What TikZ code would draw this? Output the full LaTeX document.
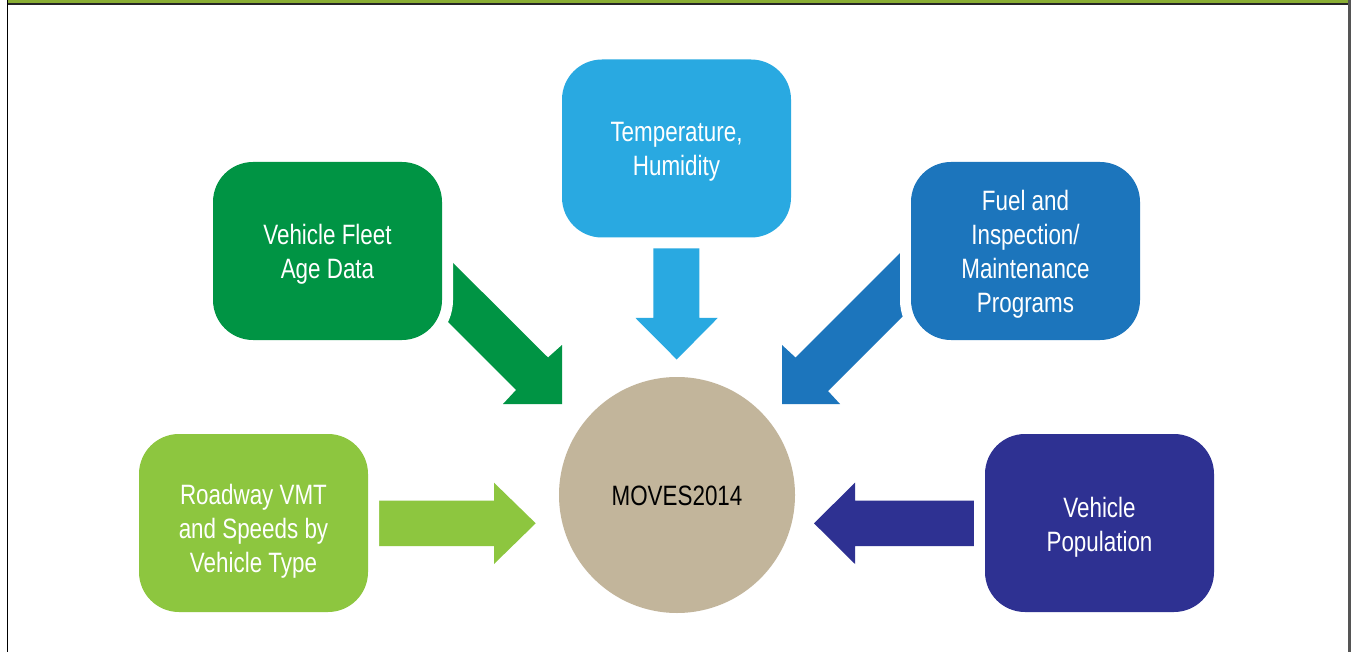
\documentclass[tikz,border=0pt]{standalone}
\usepackage{fontspec}
\setmainfont{Liberation Sans}[FakeStretch=0.8]
\definecolor{barGreen}{HTML}{8AAE34}
\definecolor{fleetGreen}{HTML}{009444}
\definecolor{tempBlue}{HTML}{29A9E1}
\definecolor{fuelBlue}{HTML}{1C75BC}
\definecolor{roadGreen}{HTML}{8DC63F}
\definecolor{popNavy}{HTML}{2E3192}
\definecolor{movesTan}{HTML}{C2B59B}
\definecolor{edgeGray}{HTML}{555555}
\tikzset{
  infobox/.style={rectangle, rounded corners=40pt, minimum width=229pt, minimum height=178pt,
    inner sep=0pt, preaction={draw=white, line width=22pt}},
  boxtext/.style={inner sep=0pt, text=white, align=center,
    font=\fontsize{28}{34}\selectfont},
  hub/.style={circle, fill=movesTan, minimum size=236pt, inner sep=0pt},
  hubtext/.style={inner sep=0pt, text=black, font=\fontsize{28}{34}\selectfont},
}
\begin{document}
\begin{tikzpicture}[x=1pt,y=-1pt]
\useasboundingbox (0,0) rectangle (1352,652);
\fill[white] (0,0) rectangle (1352,652);
% frame
\fill[barGreen] (8,0) rectangle (1348,3.3);
\fill[black!85] (8,3.3) rectangle (1348,4.8);
\fill[black] (6.8,0) rectangle (8.3,652);
\fill[edgeGray] (1348,0) rectangle (1350.5,652);
% arrows
\fill[tempBlue] (653.3,240) -- (699.3,240) -- (699.3,318) -- (717.7,318) -- (676.7,359.5) -- (635.5,318) -- (653.3,318) -- cycle;
\fill[roadGreen] (375,500.5) -- (494,500.5) -- (494,482.7) -- (535.7,523.3) -- (494,564) -- (494,546) -- (375,546) -- cycle;
\fill[popNavy] (978,500.5) -- (855,500.5) -- (855,482.7) -- (814,523.3) -- (855,564) -- (855,546) -- (978,546) -- cycle;
\fill[fleetGreen] (420,230) -- (548,357.5) -- (562,345) -- (562,404) -- (503,404) -- (516,390) -- (420,294) -- cycle;
\fill[fuelBlue] (930,223) -- (795.5,357.5) -- (782,345) -- (782,404) -- (840,404) -- (828,391) -- (930,289) -- cycle;
% boxes
\node[infobox, fill=tempBlue] (temp) at (676.5,148.5) {};
\node[infobox, fill=fleetGreen] (fleet) at (327.5,251) {};
\node[infobox, fill=fuelBlue] (fuel) at (1025.5,251) {};
\node[infobox, fill=roadGreen] (road) at (253.5,523) {};
\node[infobox, fill=popNavy] (pop) at (1099.5,523) {};
\node[hub] (moves) at (677,495) {};
% texts
\node[boxtext] (temptext) at ([yshift=-3pt]temp.center) {Temperature,\\Humidity};
\node[boxtext] (fleettext) at ([yshift=-3pt]fleet.center) {Vehicle Fleet\\Age Data};
\node[boxtext] (fueltext) at ([yshift=-3pt]fuel.center) {Fuel and\\Inspection/\\Maintenance\\Programs};
\node[boxtext] (roadtext) at ([yshift=-8pt]road.center) {Roadway VMT\\and Speeds by\\Vehicle Type};
\node[boxtext] (poptext) at ([yshift=-4pt]pop.center) {Vehicle\\Population};
\node[hubtext] (movestext) at ([yshift=-1pt]moves.center) {MOVES2014};
\end{tikzpicture}
\end{document}
